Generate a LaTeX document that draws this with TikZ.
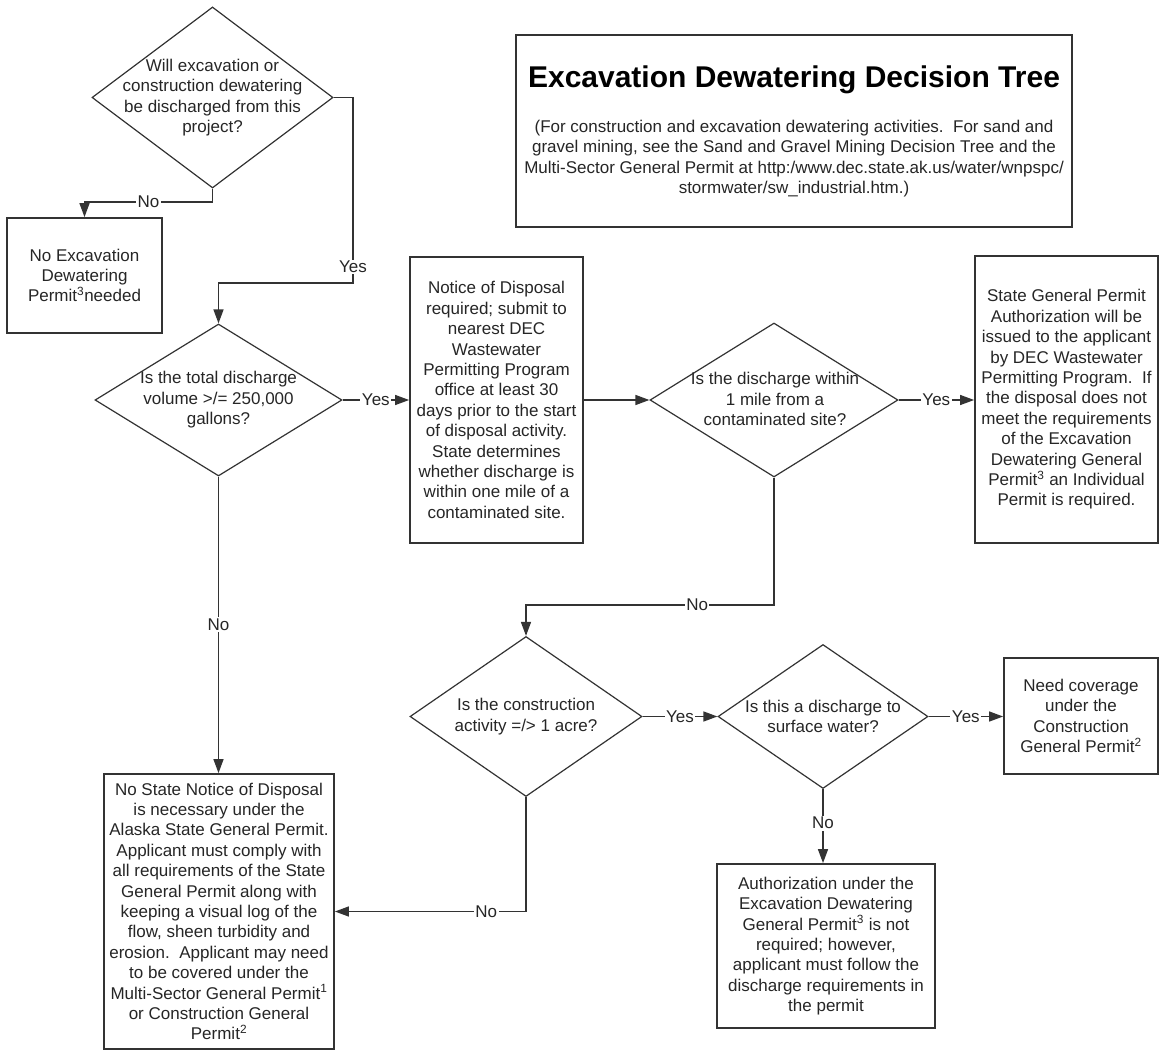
\documentclass[tikz,border=0pt]{standalone}
\usepackage{fontspec}
\setmainfont{Liberation Sans}
\usetikzlibrary{arrows.meta,shapes.geometric,calc}
\definecolor{linec}{HTML}{333333}
\definecolor{textc}{HTML}{262626}
\newcommand\txtfont{\fontsize{17}{20.4}\selectfont}
\newcommand\ttlfont{\fontsize{30}{36}\selectfont\bfseries}
\tikzset{
  box/.style={draw=linec, line width=1.8pt, fill=white, inner sep=0pt, align=center, font=\txtfont, text=textc},
  dia/.style={draw=linec, line width=1.2pt, shape=diamond, inner sep=0pt},
  qtext/.style={align=center, font=\txtfont, text=textc, inner sep=0pt},
  conn/.style={draw=linec, line width=1.4pt},
  arr/.style={conn, -{Triangle[length=14pt,width=10pt]}},
  lbl/.style={fill=white, inner sep=1.5pt, font=\txtfont, text=textc},
}
\begin{document}
\begin{tikzpicture}[x=1pt,y=-1pt]
\fill[white] (0,0) rectangle (1159,1051);
\useasboundingbox (0,0) rectangle (1159,1051);

% title box
\node[box, minimum width=556pt, minimum height=192pt] (tb) at (794,131) {};
\node[qtext, font=\ttlfont, text=black] (tt) at (794,80) {Excavation Dewatering Decision Tree};
\node[qtext] (st) at (794,158.6) {(For construction and excavation dewatering activities.\ \ For sand and\\
gravel mining, see the Sand and Gravel Mining Decision Tree and the\\
Multi-Sector General Permit at http:/www.dec.state.ak.us/water/wnpspc/\\
stormwater/sw\_industrial.htm.)};

% decision diamonds
\node[dia, minimum width=241pt, minimum height=181pt] (d1) at (212.5,97.5) {};
\node[qtext] (d1t) at (d1) {Will excavation or\\construction dewatering\\be discharged from this\\project?};

\node[dia, minimum width=247pt, minimum height=152pt] (d2) at (218.5,400) {};
\node[qtext] (d2t) at (d2) {Is the total discharge\\volume >/= 250,000\\gallons?};

\node[dia, minimum width=248pt, minimum height=154pt] (d3) at (774,400) {};
\node[qtext] (d3t) at (775,399) {Is the discharge within\\1 mile from a\\contaminated site?};

\node[dia, minimum width=232pt, minimum height=160pt] (d4) at (526,716.5) {};
\node[qtext] (d4t) at (d4) {Is the construction\\activity =/> 1 acre?};

\node[dia, minimum width=210pt, minimum height=144pt] (d5) at (823,716.5) {};
\node[qtext] (d5t) at (d5) {Is this a discharge to\\surface water?};

% result boxes
\node[box, minimum width=155pt, minimum height=115pt] (ne) at (84.5,275.5)
  {No Excavation\\Dewatering\\Permit\textsuperscript{3}needed};

\node[box, minimum width=173pt, minimum height=286pt] (nb) at (496.5,400)
  {Notice of Disposal\\required; submit to\\nearest DEC\\Wastewater\\Permitting Program\\office at least 30\\days prior to the start\\of disposal activity.\\State determines\\whether discharge is\\within one mile of a\\contaminated site.};

\node[box, minimum width=183pt, minimum height=287pt] (sb) at (1066.5,399.5)
  {State General Permit\\Authorization will be\\issued to the applicant\\by DEC Wastewater\\Permitting Program.\ \ If\\the disposal does not\\meet the requirements\\of the Excavation\\Dewatering General\\Permit\textsuperscript{3} an Individual\\Permit is required.};

\node[box, minimum width=154pt, minimum height=116pt] (need) at (1081,716)
  {Need coverage\\under the\\Construction\\General Permit\textsuperscript{2}};

\node[box, minimum width=218pt, minimum height=164pt] (auth) at (826,946)
  {Authorization under the\\Excavation Dewatering\\General Permit\textsuperscript{3} is not\\required; however,\\applicant must follow the\\discharge requirements in\\the permit};

\node[box, minimum width=230pt, minimum height=275pt] (bl) at (219,911.5)
  {No State Notice of Disposal\\is necessary under the\\Alaska State General Permit.\\Applicant must comply with\\all requirements of the State\\General Permit along with\\keeping a visual log of the\\flow, sheen turbidity and\\erosion.\ \ Applicant may need\\to be covered under the\\Multi-Sector General Permit\textsuperscript{1}\\or Construction General\\Permit\textsuperscript{2}};

% bend points
\coordinate (b1) at (353,283);
\coordinate (b2) at (526,605);

% connectors
\draw[arr] (d1.east) -| node[lbl, pos=0.957] {Yes} (b1) -| (d2.north);
\draw[arr] (d1.south) |- node[lbl, pos=0.75] {No} ($(ne.north)+(0,-15)$) -- (ne.north);
\draw[arr] (d2.east) -- node[lbl] {Yes} (nb.west |- d2.east);
\draw[arr] (d2.south) -- node[lbl, pos=0.5] {No} (d2.south |- bl.north);
\draw[arr] (nb.east) -- (d3.west);
\draw[arr] (d3.east) -- node[lbl] {Yes} (sb.west |- d3.east);
\draw[arr] (d3.south) |- node[lbl, pos=0.655] {No} (b2) -- (d4.north);
\draw[arr] (d4.east) -- node[lbl] {Yes} (d5.west);
\draw[arr] (d5.east) -- node[lbl] {Yes} (need.west |- d5.east);
\draw[arr] (d5.south) -- node[lbl, pos=0.46] {No} (d5.south |- auth.north);
\draw[arr] (d4.south) |- node[lbl, pos=0.604] {No} (bl.east);
\end{tikzpicture}
\end{document}
